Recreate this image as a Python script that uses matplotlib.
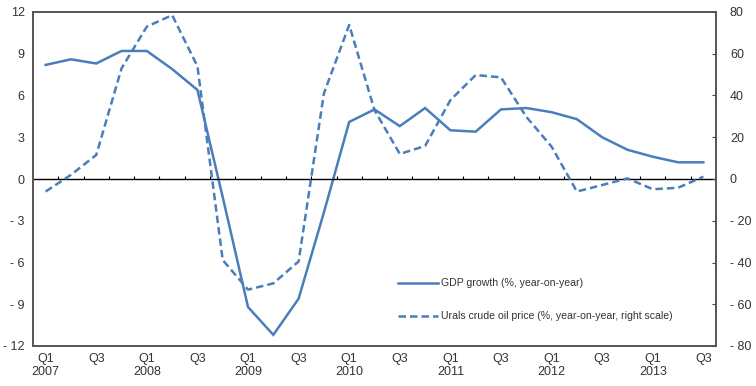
import matplotlib.pyplot as plt
import numpy as np

# quarters Q1 2007 .. Q3 2013
years = list(range(2007, 2014))
quarters = [f"Q{q} {y}" for y in years for q in range(1, 5)][:27]

gdp_growth = [8.2, 8.6, 8.3, 9.2, 9.2, 7.9, 6.4, -1.3,
              -9.2, -11.2, -8.6, -2.4, 4.1, 5.0, 3.8, 5.1,
              3.5, 3.4, 5.0, 5.1, 4.8, 4.3, 3.0, 2.1,
              1.6, 1.2, 1.2]
urals_oil = [-6, 2, 11.5, 53, 73, 78.5, 54, -38.8,
             -53, -50, -39.5, 41, 73.8, 33, 12, 15.8,
             37.8, 49.8, 48.7, 29.8, 15.5, -6, -2.9, 0.3,
             -4.9, -4.2, 1.1]

tick_labels = []
for i, q in enumerate(quarters):
    if i % 2:
        tick_labels.append("")
    elif q.startswith("Q1"):
        tick_labels.append("Q1\n" + q.split()[1])
    else:
        tick_labels.append("Q3")

left_ticks = [-12, -9, -6, -3, 0, 3, 6, 9, 12]
right_ticks = [-80, -60, -40, -20, 0, 20, 40, 60, 80]

blue = "#4a7ebb"
txt = "#333333"
plt.rcParams["font.family"] = ["Liberation Sans", "DejaVu Sans"]


def fmt(v):
    return f"- {abs(v)}" if v < 0 else str(v)


fig = plt.figure(figsize=(7.56, 3.86), dpi=100)
ax = fig.add_axes([33 / 756, 1 - 346 / 386, (716 - 33) / 756, (346 - 12) / 386])
ax2 = ax.twinx()

x = np.arange(len(quarters))
l1, = ax.plot(x, gdp_growth, color=blue, lw=1.8, solid_joinstyle="miter")
l2, = ax2.plot(x, urals_oil, color=blue, lw=1.8, ls=(0, (3, 1.6)))

ax.axhline(0, color="black", lw=1)
ax.vlines(x[:-1] + 0.5, 0, 0.22, color="black", lw=0.8)

ax.set_xlim(-0.5, len(quarters) - 0.5)
ax.set_ylim(-12, 12)
ax2.set_ylim(-80, 80)

ax.set_xticks(x)
ax.set_xticklabels(tick_labels, fontsize=9, color=txt, linespacing=1.15)
ax.tick_params(axis="x", length=0, pad=5)
ax.set_yticks(left_ticks)
ax.set_yticklabels([fmt(v) for v in left_ticks], fontsize=9, color=txt)
ax.tick_params(axis="y", length=0, pad=6)
ax2.set_yticks(right_ticks)
ax2.set_yticklabels([fmt(v) for v in right_ticks], fontsize=9, color=txt)
ax2.tick_params(axis="y", direction="in", length=3, pad=10, color="#444444")

for a in (ax, ax2):
    for s in a.spines.values():
        s.set_color("#555555")
        s.set_linewidth(1.2)

ax.legend([l1, l2],
          ["GDP growth (%, year-on-year)",
           "Urals crude oil price (%, year-on-year, right scale)"],
          loc="lower left", bbox_to_anchor=(0.52, 0.045), frameon=False,
          fontsize=7.6, handlelength=3.8, handletextpad=0.3,
          labelspacing=2.2, labelcolor=txt)

fig.savefig("out.png", dpi=100)
